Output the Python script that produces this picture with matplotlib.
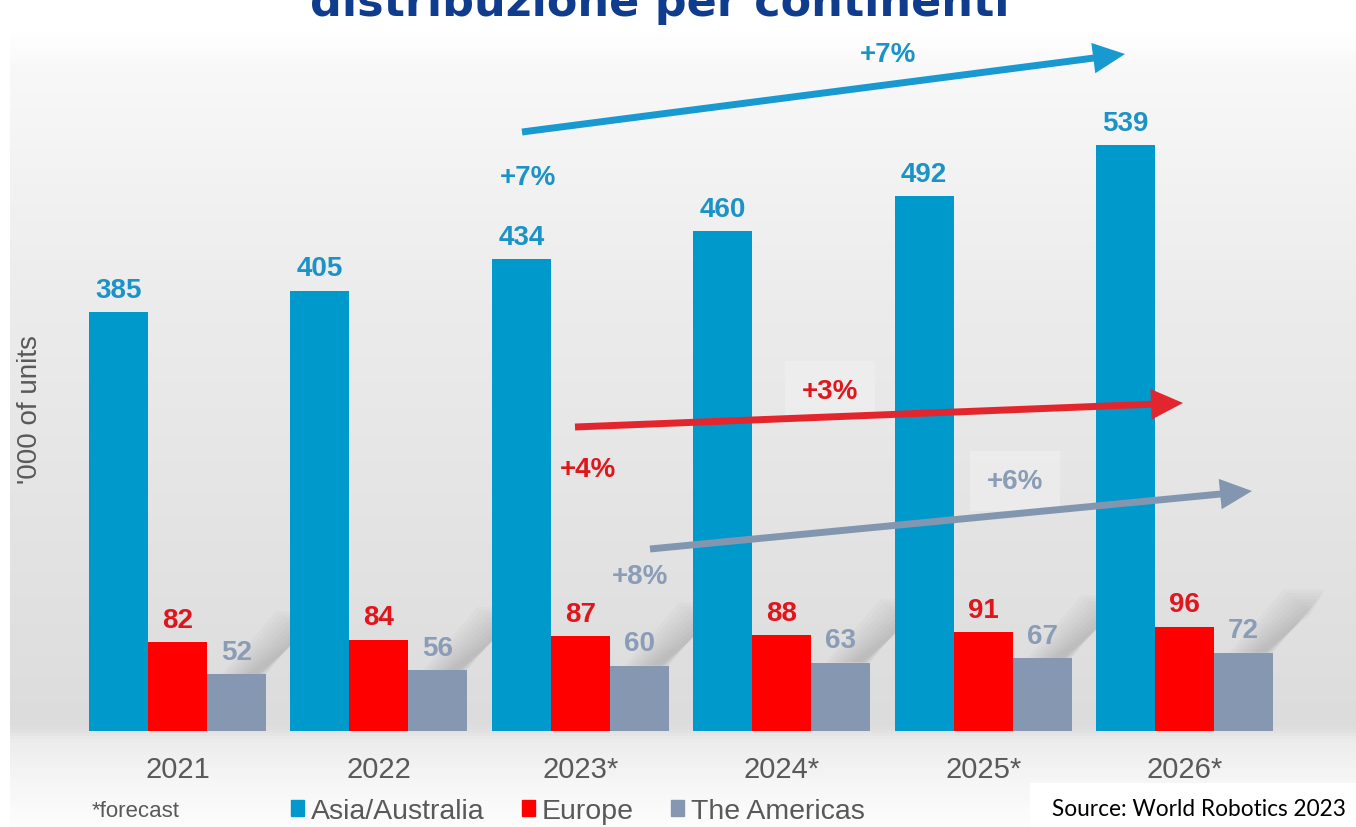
import numpy as np
import matplotlib.pyplot as plt
from matplotlib.patches import Patch, Polygon
from matplotlib.transforms import Affine2D, blended_transform_factory
from matplotlib.colors import LinearSegmentedColormap

# ---- data ----
years = ["2021", "2022", "2023*", "2024*", "2025*", "2026*"]
asia = [385, 405, 434, 460, 492, 539]
europe = [82, 84, 87, 88, 91, 96]
americas = [52, 56, 60, 63, 67, 72]
series_names = ["Asia/Australia", "Europe", "The Americas"]
growth_labels = ["+7%", "+7%", "+4%", "+3%", "+8%", "+6%"]

C_ASIA, C_EU, C_AM = "#0099cc", "#ff0000", "#8597b1"
T_ASIA, T_EU, T_AM = "#1b93c6", "#e0161d", "#8a9cb6"
GREY_TXT = "#595959"

plt.rcParams["font.family"] = ["Liberation Sans", "DejaVu Sans"]

W, H = 1356, 828
fig = plt.figure(figsize=(W / 100, H / 100), dpi=100)
px = Affine2D().scale(1 / W, -1 / H).translate(0, 1) + fig.transFigure

# ---- background gradient ----
bg = fig.add_axes([0, 0, 1, 1], zorder=0)
stops = [(0.0, "#ffffff"), (30 / H, "#ffffff"), (70 / H, "#f8f8f8"),
         (300 / H, "#ececec"), (600 / H, "#e1e1e1"), (728 / H, "#dcdcdc"),
         (745 / H, "#ededed"), (790 / H, "#f7f7f7"), (1.0, "#fdfdfd")]
cmap = LinearSegmentedColormap.from_list("bg", stops)
grad = np.repeat(np.linspace(0, 1, H)[:, None], W, axis=1)
grad[:, :10] = 0.0
bg.imshow(grad, cmap=cmap, aspect="auto", extent=(0, 1, 0, 1), vmin=0, vmax=1)
bg.axis("off")

# ---- bars ----
ax = fig.add_axes([0, 0, 1, 1], zorder=1)
ax.set_facecolor("none")
x = np.arange(len(years))
w = 0.293
ax.set_xlim(-0.881, 5.851)
ax.set_ylim(-88.3, 673.3)
ax.axis("off")

# soft diagonal shadows behind the grey bars
for xi, v in zip(x, americas):
    xr = xi + 1.5 * w
    for k in range(8):
        inset = 0.018 * k
        rise = 58 - 3 * k
        poly = Polygon([(xr - 0.22 + inset, v), (xr - inset * 0.3, v),
                        (xr + 0.26 - inset * 0.5, v + rise),
                        (xr + 0.05 + inset, v + rise)],
                       closed=True, facecolor="#6a6a6a", edgecolor="none",
                       alpha=0.035, zorder=1.5)
        ax.add_patch(poly)

ax.bar(x - w, asia, w, color=C_ASIA, zorder=2)
ax.bar(x, europe, w, color=C_EU, zorder=2)
ax.bar(x + w, americas, w, color=C_AM, zorder=2)

for vals, off, col in [(asia, -w, T_ASIA), (europe, 0, T_EU), (americas, w, T_AM)]:
    for xi, v in zip(x, vals):
        ax.annotate(str(v), (xi + off, v), xytext=(0, 11), textcoords="offset points",
                    ha="center", va="baseline", fontsize=20, fontweight="bold",
                    color=col, zorder=3)

# category labels
xt = blended_transform_factory(ax.transData, px)
for xi, lab in zip(x, years):
    ax.text(xi, 778, lab, transform=xt, ha="center", va="baseline",
            fontsize=21, color=GREY_TXT)

# ---- growth arrows ----
def arrow(tail, tip, color):
    ax.annotate("", xy=tip, xytext=tail, xycoords=px, textcoords=px,
                arrowprops=dict(arrowstyle="simple,head_length=2.3,head_width=2.2,tail_width=0.5",
                                mutation_scale=10, color=color, shrinkA=0, shrinkB=0,
                                lw=0),
                zorder=4)

arrow((522, 133), (1125, 55), "#189ad0")
arrow((575, 428), (1183, 404), "#e3262e")
arrow((650, 550), (1252, 492), "#8396b0")

g_pos = [(888, 55), (528, 178), (588, 470), (830, 392), (640, 577), (1015, 482)]
g_col = [T_ASIA, T_ASIA, T_EU, T_EU, T_AM, T_AM]
for (gx, gy), lab, col in zip(g_pos, growth_labels, g_col):
    bbox = None
    if lab in ("+3%", "+6%"):
        bbox = dict(boxstyle="square,pad=0.6", facecolor="#f4f4f4", edgecolor="none", alpha=0.45)
    ax.text(gx, gy, lab, transform=px, ha="center", va="center", fontsize=20,
            fontweight="bold", color=col, bbox=bbox, zorder=3.5)

# ---- title (cut off at the top) ----
fig.text(660 / W, 1 - 16 / H, "distribuzione per continenti", ha="center", va="baseline",
         fontsize=32, fontweight="bold", color="#0f3c8c", family="DejaVu Sans", zorder=5)

# ---- y label ----
fig.text(30 / W, 1 - 410 / H, "'000 of units", rotation=90, ha="center", va="center",
         fontsize=20, color=GREY_TXT, zorder=5)

# ---- legend + footnotes ----
handles = [Patch(color=c) for c in (C_ASIA, C_EU, C_AM)]
leg = fig.legend(handles, series_names, loc="center left",
                 bbox_to_anchor=(291 / W, 1 - 812 / H), ncol=3, frameon=False,
                 fontsize=20.5, handlelength=0.46, handleheight=0.46,
                 handletextpad=0.25, columnspacing=1.3, borderpad=0,
                 borderaxespad=0, labelcolor=GREY_TXT)
leg.set_zorder(5)

fig.text(92 / W, 1 - 812 / H, "*forecast", ha="left", va="center",
         fontsize=16, color=GREY_TXT, zorder=5)

fig.patches.append(plt.Rectangle((1030 / W, 0), 1 - 1030 / W, 44 / H,
                                 transform=fig.transFigure, facecolor="white",
                                 edgecolor="none", zorder=4))
fig.text(1052 / W, 1 - 810 / H, "Source: World Robotics 2023", ha="left", va="center",
         fontsize=16.3, color="black", family="Lato", zorder=6)

fig.savefig("out.png", dpi=100)
